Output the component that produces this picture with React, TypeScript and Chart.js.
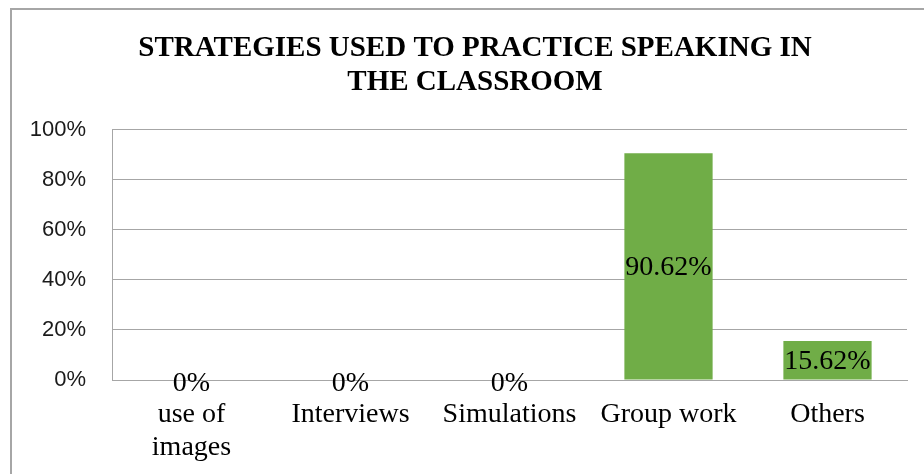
import React, { useEffect, useRef } from "react";
import { Chart, registerables } from "chart.js";

Chart.register(...registerables);

const titleLines = ["STRATEGIES USED TO PRACTICE SPEAKING IN", "THE CLASSROOM"];
const categories: (string | string[])[] = [["use of", "images"], "Interviews", "Simulations", "Group work", "Others"];
const values = [0, 0, 0, 90.62, 15.62];
const yMin = 0;
const yMax = 100;
const yStep = 20;

const serif = '"Liberation Serif", "Times New Roman", serif';
const sans = '"Liberation Sans", Arial, sans-serif';

const frame = {
  id: "frame",
  beforeDraw(chart: any) {
    const ctx = chart.ctx;
    ctx.save();
    ctx.fillStyle = "#ffffff";
    ctx.fillRect(0, 0, chart.width, chart.height);
    ctx.strokeStyle = "#a6a6a6";
    ctx.lineWidth = 2;
    ctx.strokeRect(11, 9, chart.width + 20, chart.height + 20);
    ctx.restore();
  },
};

const titleShift = {
  id: "titleShift",
  afterLayout(chart: any) {
    const t = chart.titleBlock;
    if (t) {
      t.left = 26;
      t.right = chart.width;
    }
  },
};

const barLabels = {
  id: "barLabels",
  afterDatasetsDraw(chart: any) {
    const ctx = chart.ctx;
    const meta = chart.getDatasetMeta(0);
    ctx.save();
    ctx.font = `28px ${serif}`;
    ctx.fillStyle = "#000000";
    ctx.textAlign = "center";
    ctx.textBaseline = "middle";
    meta.data.forEach((bar: any, i: number) => {
      const { x, y, base } = bar.getProps(["x", "y", "base"], true);
      const v = chart.data.datasets[0].data[i];
      const yy = v === 0 ? base + 4 : (y + base) / 2 + 1;
      ctx.fillText(`${v}%`, x, yy);
    });
    ctx.restore();
  },
};

export default function App() {
  const ref = useRef<HTMLCanvasElement>(null);
  useEffect(() => {
    if (!ref.current) return;
    const chart = new Chart(ref.current, {
      type: "bar",
      data: {
        labels: categories,
        datasets: [
          {
            data: values,
            backgroundColor: "#70ad47",
            borderWidth: 0,
            categoryPercentage: 1,
            barPercentage: 0.555,
          },
        ],
      },
      options: {
        responsive: false,
        animation: false,
        devicePixelRatio: 1,
        layout: { padding: { top: 32, left: 20, right: 17, bottom: 0 } },
        plugins: {
          legend: { display: false },
          tooltip: { enabled: false },
          title: {
            display: true,
            text: titleLines,
            color: "#000000",
            font: { family: serif, size: 29, weight: "bold", lineHeight: 1.17 },
            padding: { top: 0, bottom: 30 },
          },
        },
        scales: {
          x: {
            grid: { display: false, drawTicks: false },
            border: { display: true, color: "#a6a6a6", width: 1 },
            ticks: {
              color: "#000000",
              font: { family: serif, size: 28, lineHeight: 1.15 },
              padding: 19,
              maxRotation: 0,
              autoSkip: false,
            },
            afterFit(scale: any) {
              scale.height = 94;
            },
          },
          y: {
            min: yMin,
            max: yMax,
            grid: { color: "#a6a6a6", lineWidth: 1, drawTicks: false },
            border: { display: true, color: "#a6a6a6", width: 1 },
            ticks: {
              stepSize: yStep,
              color: "#1a1a1a",
              font: { family: sans, size: 22 },
              padding: 26,
              callback: (v: any) => `${v}%`,
            },
            afterFit(scale: any) {
              scale.width = 92;
            },
          },
        },
      },
      plugins: [frame, titleShift, barLabels],
    });
    return () => chart.destroy();
  }, []);
  return (
    <div style={{ position: "absolute", left: 0, top: 0, width: 924, height: 474 }}>
      <canvas ref={ref} width={924} height={474} style={{ display: "block" }} />
    </div>
  );
}
